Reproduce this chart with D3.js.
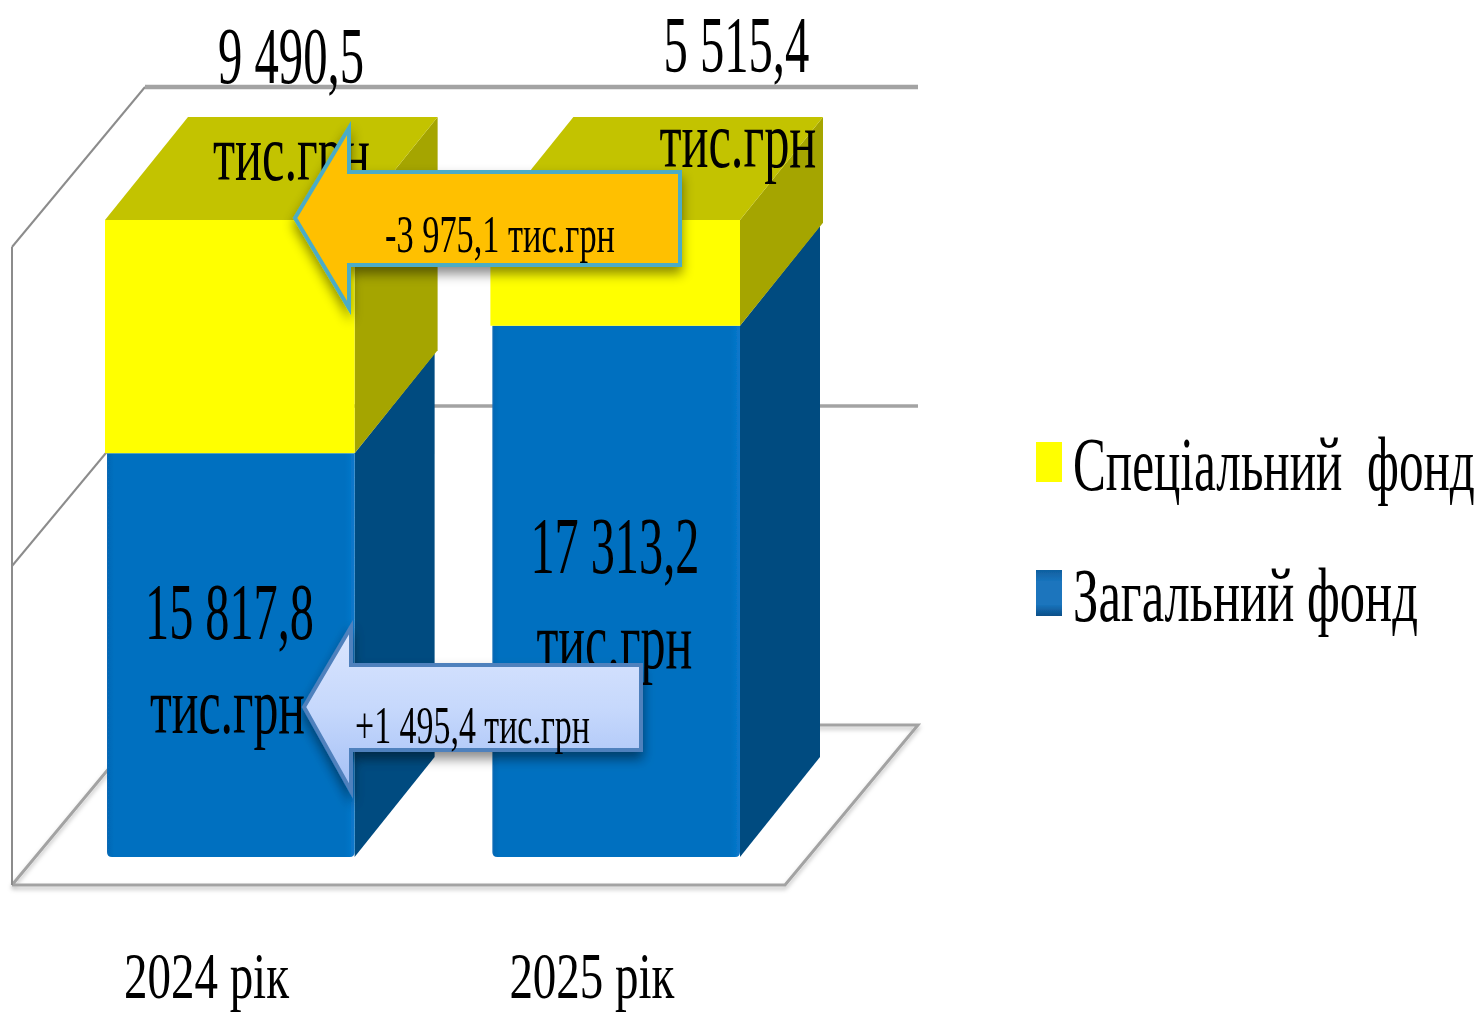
<!DOCTYPE html>
<html lang="uk">
<head>
<meta charset="utf-8">
<title>Бюджет 2024-2025</title>
<script src="https://cdn.jsdelivr.net/npm/d3@7"></script>
<style>
	html, body { margin: 0; background: #fff; }
	svg { display: block; }
	text { font-family: "Liberation Serif", "Times New Roman", serif; fill: #000; white-space: pre; }
</style>
</head>
<body>
<svg id="chart" width="1482" height="1014"></svg>
<script>
const categories = ["2024 рік", "2025 рік"];
const seriesNames = ["Загальний фонд", "Спеціальний  фонд"];
// share of the bar height in percent
const generalShare = [63.4, 83.4];
const specialShare = [36.6, 16.6];
const generalLabels = ["15 817,8", "17 313,2"];
const specialLabels = ["9 490,5", "5 515,4"];
const unitLabel = "тис.грн";
const wallTicks = [0, 50, 100];
const deltaLabels = ["-3 975,1 тис.грн", "+1 495,4 тис.грн"];

const svg = d3.select("#chart");
const defs = svg.append("defs");

defs.append("filter").attr("id", "soft")
	.attr("filterUnits", "userSpaceOnUse")
	.attr("x", 0).attr("y", 0).attr("width", 1482).attr("height", 1014)
	.append("feGaussianBlur").attr("stdDeviation", 0.7);

const shadow = defs.append("filter").attr("id", "shadow")
	.attr("x", "-20%").attr("y", "-20%").attr("width", "140%").attr("height", "150%");
shadow.append("feDropShadow")
	.attr("dx", 0).attr("dy", 7).attr("stdDeviation", 6)
	.attr("flood-color", "#000").attr("flood-opacity", 0.45);

const lineShadow = defs.append("filter").attr("id", "lineShadow")
	.attr("filterUnits", "userSpaceOnUse")
	.attr("x", 0).attr("y", 0).attr("width", 1482).attr("height", 1014);
lineShadow.append("feDropShadow")
	.attr("dx", 0).attr("dy", 3).attr("stdDeviation", 2)
	.attr("flood-color", "#000").attr("flood-opacity", 0.25);

const frontBlue = defs.append("linearGradient").attr("id", "frontBlue");
[[0, "#0868b4"], [0.03, "#0070c0"], [0.96, "#0070c0"], [1, "#0a78cc"]]
	.forEach(([o, c]) => frontBlue.append("stop").attr("offset", o).attr("stop-color", c));

const arrowBlue = defs.append("linearGradient").attr("id", "arrowBlue")
	.attr("x1", 0).attr("y1", 0).attr("x2", 0).attr("y2", 1);
[[0, "#dbe6fe"], [0.5, "#c6d8fc"], [1, "#a3bff5"]]
	.forEach(([o, c]) => arrowBlue.append("stop").attr("offset", o).attr("stop-color", c));

const swatchBlue = defs.append("linearGradient").attr("id", "swatchBlue")
	.attr("x1", 0).attr("y1", 0).attr("x2", 0).attr("y2", 1);
[[0, "#0f5f9f"], [0.25, "#1a74bd"], [0.75, "#1a74bd"], [1, "#0a4f88"]]
	.forEach(([o, c]) => swatchBlue.append("stop").attr("offset", o).attr("stop-color", c));

const root = svg.append("g").attr("filter", "url(#soft)");

const x = d3.scaleBand().domain(categories).range([107, 740]).paddingInner(0.3575);
const y = d3.scaleLinear().domain([0, 100]).range([857, 220]);
const wallY = d3.scaleLinear().domain([0, 100]).range([885, 247]);

const wallDepthX = 133, wallDepthY = -160;
const wallLeft = 12, wallRight = 785;
const line = d3.line();
const poly = pts => line(pts) + "Z";

// walls and floor
const walls = root.append("g").attr("fill", "none").attr("stroke", "#a3a3a3");
walls.append("path")
	.attr("d", line([
		[wallLeft, wallY(0)], [wallRight, wallY(0)],
		[wallRight + wallDepthX, wallY(0) + wallDepthY],
		[wallLeft + wallDepthX, wallY(0) + wallDepthY], [wallLeft, wallY(0)]
	]))
	.attr("stroke-width", 3)
	.attr("filter", "url(#lineShadow)");
walls.append("line")
	.attr("x1", wallLeft).attr("x2", wallLeft)
	.attr("y1", wallY(0)).attr("y2", wallY(100))
	.attr("stroke-width", 2).attr("stroke", "#8c8c8c");
wallTicks.slice(1).forEach((d, i) => {
	const yFront = wallY(d), yBack = wallY(d) + wallDepthY;
	walls.append("line")
		.attr("x1", wallLeft).attr("y1", yFront)
		.attr("x2", wallLeft + wallDepthX).attr("y2", yBack)
		.attr("stroke-width", 2).attr("stroke", "#8c8c8c");
	walls.append("line")
		.attr("x1", wallLeft + wallDepthX).attr("y1", yBack)
		.attr("x2", wallRight + wallDepthX).attr("y2", yBack)
		.attr("stroke-width", i ? 4.5 : 3.5);
});

const bars = root.append("g");
categories.forEach((c, i) => {
	const g = bars.append("g");
	const x0 = x(c), x1 = x(c) + x.bandwidth();
	const yMid = y(generalShare[i]), yTop = y(generalShare[i] + specialShare[i]);

	// general fund block: side, then front with rounded foot
	g.append("path")
		.attr("fill", "#044b80")
		.attr("d", poly([[x1, y(0)], [x1 + 80, y(0) - 100], [x1 + 80, yMid - 100], [x1, yMid]]));
	g.append("path")
		.attr("fill", "url(#frontBlue)")
		.attr("d", `M${x0},${yMid}H${x1}V${y(0) - 5}Q${x1},${y(0)} ${x1 - 5},${y(0)}H${x0 + 5}Q${x0},${y(0)} ${x0},${y(0) - 5}Z`);

	// special fund block
	g.append("path")
		.attr("fill", "#a5a500")
		.attr("d", poly([[x1, yMid], [x1 + 83, yMid - 103], [x1 + 83, yTop - 103], [x1, yTop]]));
	g.append("path")
		.attr("fill", "#c3c300")
		.attr("d", poly([[x0 - 2, yTop], [x0 + 81, yTop - 103], [x1 + 83, yTop - 103], [x1, yTop]]));
	g.append("rect")
		.attr("x", x0 - 2).attr("y", yTop)
		.attr("width", x1 - x0 + 2).attr("height", yMid - yTop)
		.attr("fill", "#ffff00");
});

// text squeezed horizontally to the given span, the reference is stretched
function label(parent, str, left, right, baseline, size) {
	const t = parent.append("text")
		.attr("font-size", size)
		.text(str);
	const sx = (right - left) / t.node().getComputedTextLength();
	t.attr("transform", `translate(${left},${baseline}) scale(${sx},1)`);
	return t;
}

// value labels, placed relative to their bars
const labels = root.append("g");
const topOffset = [[111, 257, 83], [171, 317, 72]];
const topUnitOffset = [[106, 263, 180], [167, 324, 167]];
const midOffset = [[38, 207, 639], [38, 207, 573]];
const midUnitOffset = [[43, 198, 733], [44, 200, 668]];
categories.forEach((c, i) => {
	const x0 = x(c);
	label(labels, specialLabels[i], x0 + topOffset[i][0], x0 + topOffset[i][1], topOffset[i][2], 80);
	label(labels, unitLabel, x0 + topUnitOffset[i][0], x0 + topUnitOffset[i][1], topUnitOffset[i][2], 80);
	label(labels, generalLabels[i], x0 + midOffset[i][0], x0 + midOffset[i][1], midOffset[i][2], 80);
	label(labels, unitLabel, x0 + midUnitOffset[i][0], x0 + midUnitOffset[i][1], midUnitOffset[i][2], 80);
	label(labels, c, x0 + 17, x0 + 182, 998, 66);
});

// delta arrows
function arrowPath(tipX, neckX, rightX, tipY, bodyTop, bodyBottom, headTop, headBottom) {
	return poly([[tipX, tipY], [neckX, headTop], [neckX, bodyTop], [rightX, bodyTop], [rightX, bodyBottom], [neckX, bodyBottom], [neckX, headBottom]]);
}
root.append("path")
	.attr("d", arrowPath(295, 349, 680, 218, 172, 265, 128, 308))
	.attr("fill", "#ffc000").attr("stroke", "#4bacc6").attr("stroke-width", 4)
	.attr("stroke-linejoin", "miter")
	.attr("filter", "url(#shadow)");
label(root, deltaLabels[0], 385, 615, 252, 52);

root.append("path")
	.attr("d", arrowPath(304, 351, 641, 707, 665, 750, 627, 791))
	.attr("fill", "url(#arrowBlue)").attr("stroke", "#4f81bd").attr("stroke-width", 4)
	.attr("filter", "url(#shadow)");
label(root, deltaLabels[1], 355, 590, 743, 52);

// legend
const legend = root.append("g");
legend.append("rect").attr("x", 1036).attr("y", 442).attr("width", 26).attr("height", 40).attr("fill", "#ffff00");
legend.append("rect").attr("x", 1036).attr("y", 570).attr("width", 26).attr("height", 46).attr("fill", "url(#swatchBlue)");
label(legend, seriesNames[1], 1073, 1475, 490, 76);
label(legend, seriesNames[0], 1073, 1418, 621, 76);
</script>
</body>
</html>
